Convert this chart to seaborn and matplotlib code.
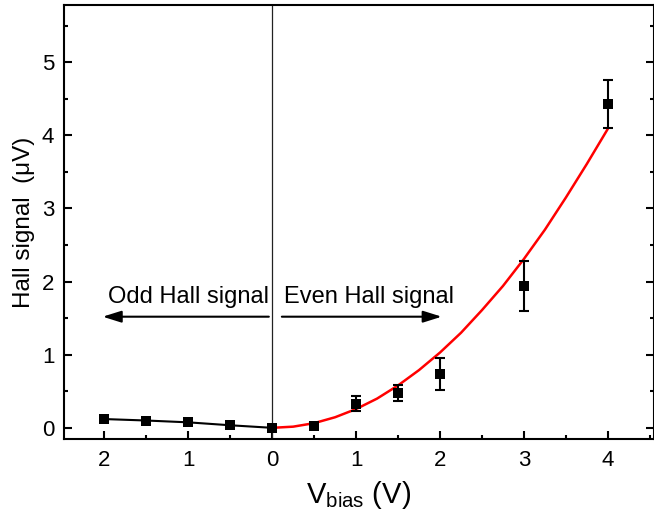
import numpy as np
import pandas as pd
import matplotlib
matplotlib.use("Agg")
import matplotlib.pyplot as plt
from matplotlib.ticker import MultipleLocator, FixedLocator, FixedFormatter
import seaborn as sns

# Odd Hall signal (negative bias, labelled by magnitude)
odd_bias = [-2.0, -1.5, -1.0, -0.5, 0.0]
odd_signal = [0.12, 0.10, 0.075, 0.035, 0.0]

# Even Hall signal (positive bias) with error bars
even_bias = [0.5, 1.0, 1.5, 2.0, 3.0, 4.0]
even_signal = [0.03, 0.33, 0.48, 0.74, 1.94, 4.43]
even_err = [0.0, 0.10, 0.11, 0.22, 0.34, 0.33]

# quadratic fit curve
fit_bias = [0.0, 0.25, 0.5, 0.75, 1.0, 1.25, 1.5, 1.75, 2.0, 2.25, 2.5,
            2.75, 3.0, 3.25, 3.5, 3.75, 4.0]
fit_signal = [0.0, 0.016, 0.064, 0.145, 0.257, 0.40, 0.58, 0.79, 1.03,
              1.30, 1.61, 1.94, 2.31, 2.71, 3.15, 3.61, 4.09]

xtick_pos = [-2, -1, 0, 1, 2, 3, 4]
xtick_labels = ["2", "1", "0", "1", "2", "3", "4"]

sns.set_style("white")
plt.rcParams['font.family'] = ['Liberation Sans', 'DejaVu Sans']
plt.rcParams['mathtext.fontset'] = 'custom'
plt.rcParams['mathtext.rm'] = 'Liberation Sans'
plt.rcParams['mathtext.it'] = 'Liberation Sans:italic'
plt.rcParams['text.color'] = 'black'
plt.rcParams['axes.labelcolor'] = 'black'
plt.rcParams['xtick.color'] = 'black'
plt.rcParams['ytick.color'] = 'black'

fig = plt.figure(figsize=(6.54, 5.23), dpi=100)
ax = fig.add_subplot(111)
fig.subplots_adjust(left=0.098, right=1.0, bottom=0.161, top=0.99)

odd_df = pd.DataFrame({"bias": odd_bias, "signal": odd_signal})
even_df = pd.DataFrame({"bias": even_bias, "signal": even_signal, "err": even_err})
fit_df = pd.DataFrame({"bias": fit_bias, "signal": fit_signal})

ax.axvline(0, color="#222222", lw=0.9, zorder=1)

sns.lineplot(data=fit_df, x="bias", y="signal", color="red", lw=1.8,
             estimator=None, ax=ax, zorder=2)
sns.lineplot(data=odd_df, x="bias", y="signal", color="black", lw=1.5,
             estimator=None, ax=ax, zorder=2)

ax.errorbar(even_df["bias"], even_df["signal"], yerr=even_df["err"], fmt="none",
            ecolor="black", elinewidth=1.5, capsize=3.5, capthick=1.5, zorder=3)

all_df = pd.concat([odd_df, even_df[["bias", "signal"]]])
sns.scatterplot(data=all_df, x="bias", y="signal", marker="s", s=60,
                color="black", edgecolor="black", linewidth=0, ax=ax, zorder=4)

# arrows and annotations
arrow_y = 1.52
ax.annotate("", xy=(-2.02, arrow_y), xytext=(-0.04, arrow_y),
            arrowprops=dict(arrowstyle="-|>,head_length=0.7,head_width=0.22",
                            color="black", lw=1.5, mutation_scale=16, shrinkA=0, shrinkB=0))
ax.annotate("", xy=(2.02, arrow_y), xytext=(0.115, arrow_y),
            arrowprops=dict(arrowstyle="-|>,head_length=0.7,head_width=0.22",
                            color="black", lw=1.5, mutation_scale=16, shrinkA=0, shrinkB=0))
ax.text(-1.0, 1.79, "Odd Hall signal", fontsize=17, ha="center", va="center")
ax.text(1.15, 1.79, "Even Hall signal", fontsize=17, ha="center", va="center")

ax.set_xlim(-2.48, 4.55)
ax.set_ylim(-0.15, 5.78)

ax.xaxis.set_major_locator(FixedLocator(xtick_pos))
ax.xaxis.set_major_formatter(FixedFormatter(xtick_labels))
ax.xaxis.set_minor_locator(MultipleLocator(0.5))
ax.yaxis.set_major_locator(MultipleLocator(1))
ax.yaxis.set_minor_locator(MultipleLocator(0.5))

ax.tick_params(axis="both", which="both", direction="in", width=1.5, color="black")
ax.tick_params(axis="both", which="major", length=6, labelsize=16)
ax.tick_params(axis="both", which="minor", length=3)
ax.tick_params(axis="x", which="both", bottom=True, top=False, pad=8)
ax.tick_params(axis="y", which="both", left=True, right=True, pad=7)

for sp in ax.spines.values():
    sp.set_linewidth(1.5)
    sp.set_color("black")

ax.set_xlabel(r"V$_{\mathrm{bias}}$ (V)", fontsize=21, labelpad=6)
ax.set_ylabel("Hall signal  (\u03bcV)", fontsize=17.5, labelpad=5)

fig.savefig("out.png", dpi=100)
